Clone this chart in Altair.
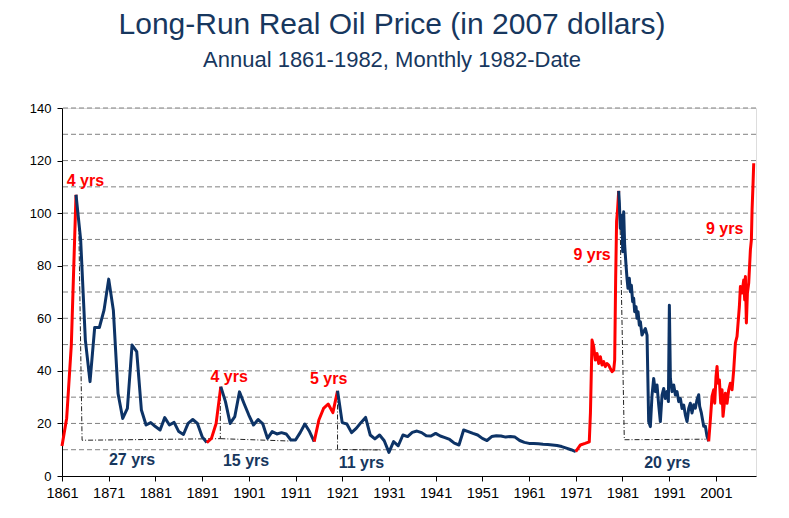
import altair as alt
import pandas as pd

# ---------------- data ----------------
annual_years = list(range(1861, 1974))
annual_price = [
    11.4, 22.0, 50.0, 107.0, 89.7, 51.7, 35.9, 56.5, 56.5, 63.1,   # 1861-1870
    74.9, 63.0, 31.4, 21.9, 25.7, 49.8, 47.3, 25.1, 19.4, 20.3,    # 1871-1880
    18.8, 17.5, 22.2, 19.4, 20.4, 16.9, 15.8, 20.0, 21.5, 20.0,    # 1881-1890
    15.0, 12.7, 14.3, 20.0, 34.0, 28.3, 20.0, 22.6, 32.0, 27.5,    # 1891-1900
    23.2, 19.4, 21.5, 19.8, 14.3, 16.9, 16.0, 16.5, 16.0, 13.7,    # 1901-1910
    13.7, 16.5, 19.8, 16.9, 13.1, 21.3, 25.7, 27.4, 24.1, 32.4,    # 1911-1920
    20.3, 19.8, 16.5, 18.1, 20.3, 22.3, 15.6, 14.1, 15.6, 13.4,    # 1921-1930
    9.0, 13.1, 11.5, 15.6, 15.0, 16.6, 17.1, 16.5, 15.3, 15.2,     # 1931-1940
    16.2, 15.2, 14.6, 13.9, 12.5, 11.8, 17.5, 16.9, 16.2, 15.6,    # 1941-1950
    14.3, 13.5, 15.0, 15.3, 15.2, 14.8, 15.0, 14.8, 13.5, 12.8,    # 1951-1960
    12.4, 12.4, 12.3, 12.1, 12.0, 11.8, 11.6, 11.2, 10.6, 10.0,    # 1961-1970
    9.3, 11.8, 12.4,                                               # 1971-1973
]

monthly_years = [
    1973.9, 1974.15, 1974.49, 1974.84, 1975.2, 1975.56, 1975.92, 1976.27, 1976.63,
    1976.99, 1977.34, 1977.7, 1978.06, 1978.41, 1978.77, 1979.13, 1979.34, 1979.55,
    1979.75, 1979.95, 1980.2,
    1980.34, 1980.55, 1980.91, 1981.05, 1981.27, 1981.48, 1981.77, 1981.98, 1982.19,
    1982.48, 1982.69, 1982.91, 1983.19, 1983.41, 1983.62, 1983.91, 1984.12, 1984.34,
    1984.62, 1984.84, 1985.19, 1985.55, 1985.91, 1986.27, 1986.62, 1986.98, 1987.34,
    1987.69, 1988.05, 1988.41, 1988.77, 1989.12, 1989.48, 1989.84, 1990.19, 1990.55,
    1990.84, 1991.05, 1991.27, 1991.62, 1991.98, 1992.34, 1992.69, 1993.05, 1993.41,
    1993.77, 1994.12, 1994.48, 1994.84, 1995.19, 1995.54, 1995.9, 1996.26, 1996.61,
    1996.97, 1997.33, 1997.54, 1997.9, 1998.4, 1998.76, 1999.11, 1999.47,
    1999.83, 2000.18, 2000.54, 2000.76, 2001.04, 2001.26, 2001.47, 2001.76, 2002.04,
    2002.33, 2002.54, 2002.83, 2003.04, 2003.4, 2003.76, 2004.11, 2004.47, 2004.83,
    2005.19, 2005.54, 2005.76, 2006.04, 2006.26, 2006.61, 2006.97, 2007.18, 2007.33,
    2007.54, 2007.76, 2008.04, 2008.4, 2008.61, 2008.76, 2008.97, 2009.11,
]
monthly_price = [
    13.0, 24.0, 51.7, 49.2, 44.1, 46.6, 42.8, 45.4, 42.2,
    43.5, 41.6, 42.8, 42.2, 40.9, 39.7, 40.3, 44.1, 75.0,
    97.0, 101.0, 108.5,
    104.0, 94.2, 99.2, 85.3, 100.5, 87.8, 80.2, 75.2, 71.4,
    75.2, 70.1, 72.6, 66.3, 67.6, 62.5, 64.4, 60.0, 62.5,
    57.4, 58.7, 53.6, 54.9, 56.1, 53.6, 20.7, 18.8, 30.8,
    37.1, 32.1, 34.6, 27.0, 20.7, 30.8, 33.3, 29.5, 32.1,
    28.3, 65.0, 37.1, 32.1, 34.6, 30.8, 32.1, 28.3, 29.5,
    25.7, 27.0, 23.2, 20.7, 25.7, 27.7, 24.0, 27.1, 25.8,
    29.0, 30.9, 26.5, 24.0, 18.9, 18.9, 15.1, 13.2,
    21.4, 30.3, 32.8, 27.7, 37.9, 41.7, 35.3, 36.6, 27.7,
    32.8, 22.7, 27.7, 31.5, 27.7, 32.8, 35.3, 32.8, 40.4,
    50.6, 53.1, 58.2, 64.5, 72.1, 69.6, 74.6, 67.0, 75.9,
    58.2, 69.6, 73.4, 86.0, 89.8, 101.3, 111.4, 119.0,
]

# run-ups (red) start/end years
rise_start = [1861, 1892, 1915, 1971, 1999.47]
rise_end = [1864, 1895, 1920, 1980.2, 2009.11]

# duration labels
label_text = ["4 yrs", "27 yrs", "4 yrs", "15 yrs", "5 yrs", "11 yrs", "9 yrs", "20 yrs", "9 yrs"]
label_year = [1866.0, 1876.0, 1896.8, 1900.4, 1918.1, 1925.1, 1974.5, 1990.6, 2002.9]
label_price = [112.3, 6.1, 37.6, 5.8, 37.0, 5.1, 84.0, 4.8, 93.8]
label_kind = ["rise", "fall", "rise", "fall", "rise", "fall", "rise", "fall", "rise"]

# dash-dot duration guides (polyline vertices, in year / price)
guide_id = [1, 1, 1, 1, 2, 2, 3, 3, 3, 4, 4, 4]
guide_year = [1864.6, 1865.3, 1894.9, 1894.9, 1894.9, 1909.9,
              1920.0, 1920.0, 1929.3, 1980.4, 1981.4, 1998.8]
guide_price = [95.0, 13.6, 14.2, 33.0, 14.2, 13.3,
               31.0, 10.1, 9.9, 105.0, 13.8, 14.0]

grid_levels = list(range(10, 150, 10))
y_ticks = list(range(0, 160, 20))
x_ticks = list(range(1861, 2011, 10))

# ---------------- build tables ----------------
RED = "#ff0000"
NAVY = "#0d3366"
NAVY_TXT = "#17375e"

years = annual_years + monthly_years
prices = annual_price + monthly_price


def is_rise(a, b):
    m = (a + b) / 2
    return any(s <= m <= e for s, e in zip(rise_start, rise_end))


rows = []
seg = 0
prev = None
for i in range(len(years) - 1):
    kind = "rise" if is_rise(years[i], years[i + 1]) else "fall"
    if kind != prev:
        seg += 1
        rows.append(dict(year=years[i], price=prices[i], seg=seg, kind=kind))
        prev = kind
    rows.append(dict(year=years[i + 1], price=prices[i + 1], seg=seg, kind=kind))
line_df = pd.DataFrame(rows)

label_df = pd.DataFrame(dict(text=label_text, year=label_year, price=label_price, kind=label_kind))
guide_df = pd.DataFrame(dict(gid=guide_id, year=guide_year, price=guide_price,
                             idx=list(range(len(guide_id)))))
grid_df = pd.DataFrame(dict(level=grid_levels))

xs = alt.Scale(domain=[1861, 2009.6], nice=False, zero=False)
ys = alt.Scale(domain=[0, 140], nice=False, zero=True)

xaxis = alt.Axis(values=x_ticks, format="d", title=None, grid=False,
                 domainColor="#000000", tickColor="#000000", tickSize=5,
                 labelFont="Liberation Sans Narrow, Arial Narrow, Liberation Sans", labelFontSize=14.5,
                 labelColor="#000000", labelPadding=5, labelFlush=False)
yaxis = alt.Axis(values=y_ticks, title=None, grid=False,
                 domainColor="#000000", tickColor="#000000", tickSize=5,
                 labelFont="Liberation Sans", labelFontSize=13,
                 labelColor="#000000", labelPadding=6)

grid = alt.Chart(grid_df).mark_rule(color="#808080", strokeWidth=1, strokeDash=[5, 3]).encode(
    y=alt.Y("level:Q", scale=ys, axis=yaxis)
)

guides = alt.Chart(guide_df).mark_line(color="#222222", strokeWidth=1,
                                       strokeDash=[5, 2, 1, 2]).encode(
    x=alt.X("year:Q", scale=xs, axis=xaxis),
    y=alt.Y("price:Q", scale=ys, axis=yaxis),
    detail="gid:N",
    order="idx:Q",
)

line = alt.Chart(line_df).mark_line(strokeWidth=3, strokeJoin="round").encode(
    x=alt.X("year:Q", scale=xs, axis=xaxis),
    y=alt.Y("price:Q", scale=ys, axis=yaxis),
    color=alt.Color("kind:N", scale=alt.Scale(domain=["rise", "fall"], range=[RED, NAVY]), legend=None),
    detail="seg:N",
    order="year:Q",
)

labels = alt.Chart(label_df).mark_text(font="Liberation Sans", fontSize=16, fontWeight="bold",
                                       align="center", baseline="middle").encode(
    x=alt.X("year:Q", scale=xs, axis=xaxis),
    y=alt.Y("price:Q", scale=ys, axis=yaxis),
    text="text:N",
    color=alt.condition(alt.datum.kind == "rise", alt.value(RED), alt.value(NAVY_TXT)),
)

chart = alt.layer(grid, guides, line, labels).properties(
    width=694,
    height=368,
    padding={"left": 54, "top": 100, "right": 25, "bottom": 42},
    autosize=alt.AutoSizeParams(type="none"),
    title=alt.TitleParams(
        text="Long-Run Real Oil Price (in 2007 dollars)",
        subtitle="Annual 1861-1982, Monthly 1982-Date",
        font="Liberation Sans", fontSize=30, fontWeight="normal", color=NAVY_TXT,
        subtitleFont="Liberation Sans", subtitleFontSize=22, subtitleColor=NAVY_TXT,
        subtitlePadding=10, anchor="middle", dx=-17, offset=31,
    ),
).configure_view(stroke=None).configure(background="white")

chart.save("out.html", embed_options={"renderer": "svg", "actions": False})
